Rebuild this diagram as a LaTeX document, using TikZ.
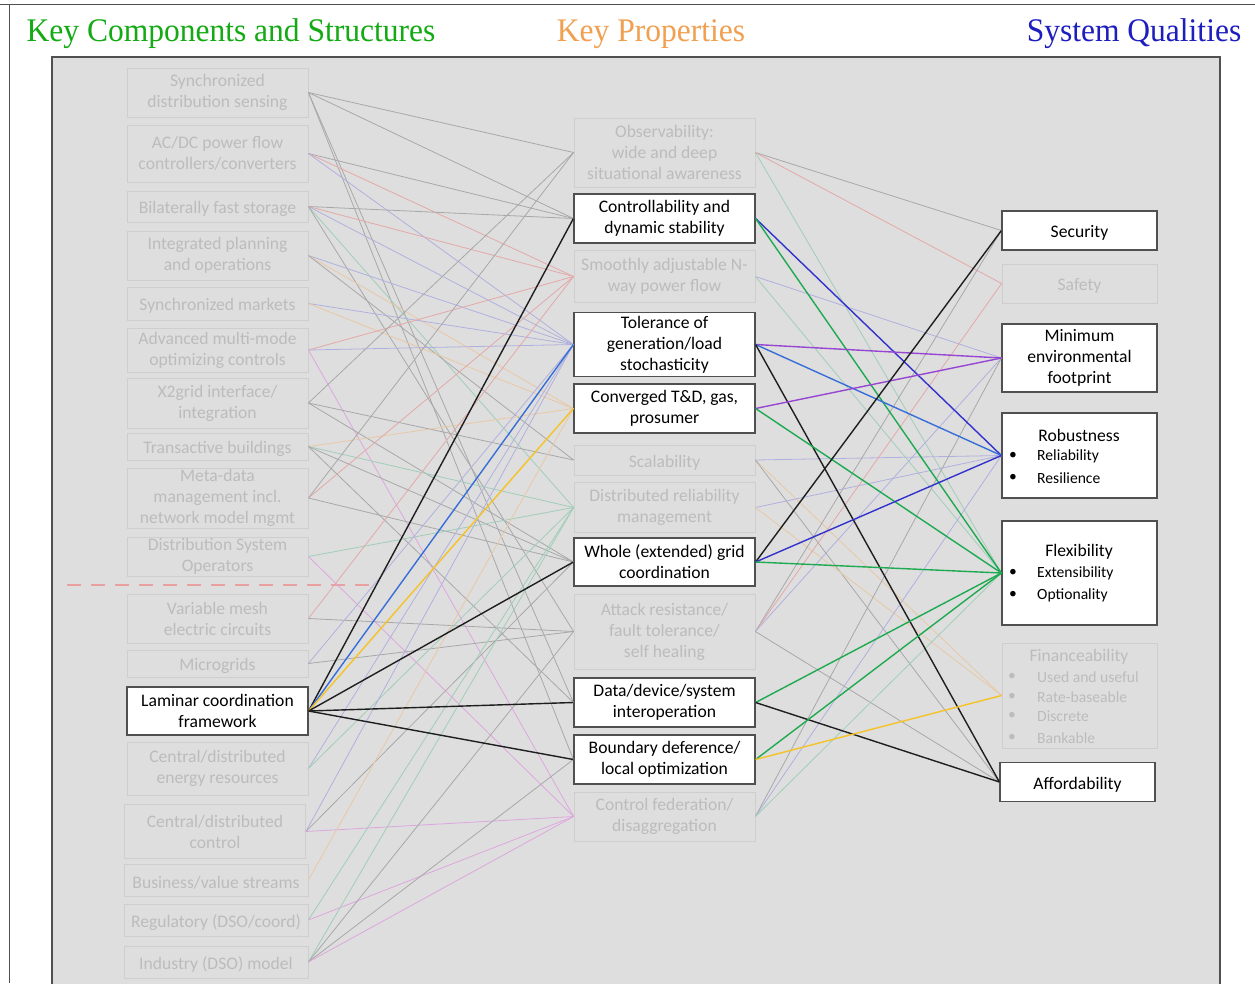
\documentclass[tikz,border=0pt]{standalone}
\usepackage{fontspec}
\setmainfont{Carlito}
\newfontfamily\titlefont{Liberation Serif}
\definecolor{panel}{RGB}{222,222,222}
\definecolor{fborder}{RGB}{206,206,206}
\definecolor{ftext}{RGB}{188,188,188}
\definecolor{dborder}{RGB}{80,80,80}
\definecolor{cgray}{RGB}{168,168,168}
\definecolor{cpink}{RGB}{228,168,168}
\definecolor{clav}{RGB}{176,176,224}
\definecolor{ctan}{RGB}{232,200,165}
\definecolor{cteal}{RGB}{160,206,184}
\definecolor{cmag}{RGB}{222,166,222}
\definecolor{cdash}{RGB}{232,160,160}
\definecolor{bblack}{RGB}{30,30,30}
\definecolor{bblue}{RGB}{55,110,215}
\definecolor{bdblue}{RGB}{50,50,205}
\definecolor{bgreen}{RGB}{30,170,80}
\definecolor{bpurple}{RGB}{150,70,210}
\definecolor{bgold}{RGB}{245,195,40}
\definecolor{tgreen}{RGB}{20,170,20}
\definecolor{torange}{RGB}{240,160,80}
\definecolor{tblue}{RGB}{30,30,190}
\newcommand\bfont{\fontsize{17.6}{21}\selectfont}
\newcommand\sfont{\fontsize{15.6}{18}\selectfont}
\newcommand\topstrut{\rule{0pt}{17pt}}
\begin{document}
\begin{tikzpicture}[x=1pt,y=-1pt,
  fbox/.style={draw=fborder,fill=panel,text=ftext,align=center,minimum width=181pt,inner sep=0pt,font=\bfont,line width=0.8pt,execute at begin node=\topstrut},
  wbox/.style={draw=dborder,fill=white,text=black,align=center,minimum width=181pt,inner sep=0pt,font=\bfont,line width=1.2pt,execute at begin node=\topstrut},
  rbox/.style={minimum width=155pt},
  ttl/.style={font=\titlefont\fontsize{33}{36}\selectfont,inner sep=0pt,xscale=0.955},
  fl/.style={line width=0.8pt},
  bl/.style={line width=1.4pt},
  lbl/.style={inner sep=0pt,anchor=west},
]
\useasboundingbox (0,0) rectangle (1255,983);
\fill[white] (0,0) rectangle (1255,983);
\draw[dborder,line width=1pt] (0,4) -- (1255,4);
\draw[dborder,line width=1pt] (9,4) -- (9,983);
% titles
\node[ttl,text=tgreen] (t1) at (231,34) {Key Components and Structures};
\node[ttl,text=torange] (t2) at (651,34) {Key Properties};
\node[ttl,text=tblue] (t3) at (1134,34) {System Qualities};
% panel
\draw[dborder,fill=panel,line width=1.2pt] (52,57) rectangle (1220,995);
\draw[cdash,line width=1.2pt,dash pattern=on 14pt off 10pt] (67,585) -- (375,585);
% left column
\node[fbox,minimum height=49pt] (L1) at (217.5,92.5) {Synchronized\\distribution sensing};
\node[fbox,minimum height=57pt] (L2) at (217.5,153.5) {AC/DC power flow\\controllers/converters};
\node[fbox,minimum height=31pt] (L3) at (217.5,206.5) {Bilaterally fast storage};
\node[fbox,minimum height=49pt] (L4) at (217.5,255.5) {Integrated planning\\and operations};
\node[fbox,minimum height=33pt] (L5) at (217.5,303.5) {Synchronized markets};
\node[fbox,minimum height=44pt] (L6) at (217.5,350) {Advanced multi-mode\\optimizing controls};
\node[fbox,minimum height=50pt] (L7) at (217.5,403) {X2grid interface/\\integration};
\node[fbox,minimum height=27pt] (L8) at (217.5,446.5) {Transactive buildings};
\node[fbox,minimum height=60pt] (L9) at (217.5,498) {Meta-data\\management incl.\\network model mgmt};
\node[fbox,minimum height=39pt] (L10) at (217.5,556.5) {Distribution System\\Operators};
\node[fbox,minimum height=49pt] (L11) at (217.5,618.5) {Variable mesh\\electric circuits};
\node[fbox,minimum height=27pt] (L12) at (217.5,663.5) {Microgrids};
\node[wbox,minimum height=48pt] (L13) at (217.5,711) {Laminar coordination\\framework};
\node[fbox,minimum height=53pt] (L14) at (217.5,768.5) {Central/distributed\\energy resources};
\node[fbox,minimum height=54pt] (L15) at (215,831.5) {Central/distributed\\control};
\node[fbox,minimum height=32pt,minimum width=184pt] (L16) at (216,880) {Business/value streams};
\node[fbox,minimum height=32pt,minimum width=184pt] (L17) at (216,920) {Regulatory (DSO/coord)};
\node[fbox,minimum height=32pt,minimum width=184pt] (L18) at (216,962) {Industry (DSO) model};
% middle column
\node[fbox,minimum height=69pt] (M1) at (664.5,152.5) {Observability:\\wide and deep\\situational awareness};
\node[wbox,minimum height=49pt] (M2) at (664.5,218.5) {Controllability and\\dynamic stability};
\node[fbox,minimum height=52pt] (M3) at (664.5,276.5) {Smoothly adjustable N-\\way power flow};
\node[wbox,minimum height=64pt] (M4) at (664.5,344.5) {Tolerance of\\generation/load\\stochasticity};
\node[wbox,minimum height=49pt] (M5) at (664.5,408.5) {Converged T\&D, gas,\\prosumer};
\node[fbox,minimum height=30pt] (M6) at (664.5,460) {Scalability};
\node[fbox,minimum height=50pt] (M7) at (664.5,507.5) {Distributed reliability\\management};
\node[wbox,minimum height=48pt] (M8) at (664.5,562) {Whole (extended) grid\\coordination};
\node[fbox,minimum height=75pt] (M9) at (664.5,631.5) {Attack resistance/\\fault tolerance/\\self healing};
\node[wbox,minimum height=49pt] (M10) at (664.5,702.5) {Data/device/system\\interoperation};
\node[wbox,minimum height=49pt] (M11) at (664.5,759.5) {Boundary deference/\\local optimization};
\node[fbox,minimum height=49pt] (M12) at (664.5,816.5) {Control federation/\\disaggregation};
% right column
\node[wbox,rbox,minimum height=39pt] (R1) at (1079.5,230.5) {Security};
\node[fbox,rbox,minimum height=39pt] (R2) at (1079.5,283.5) {Safety};
\node[wbox,rbox,minimum height=68pt] (R3) at (1079.5,358) {Minimum\\environmental\\footprint};
\node[wbox,rbox,minimum height=85pt,execute at begin node={}] (R4) at (1079.5,455.5) {};
\node[wbox,rbox,minimum height=104pt,execute at begin node={}] (R5) at (1079.5,573) {};
\node[fbox,rbox,minimum height=105pt,execute at begin node={}] (R6) at (1079.5,695.5) {};
\node[wbox,rbox,minimum height=39pt] (R7) at (1077.5,782) {Affordability};
% faded connectors left -> middle
\foreach \a/\b/\c in {L1/M1/cgray,L1/M2/cgray,L1/M10/cgray,L1/M11/cgray,
  L2/M2/cgray,L2/M3/cpink,L2/M4/clav,
  L3/M2/cgray,L3/M3/cpink,L3/M4/clav,L3/M7/cteal,L3/M9/cgray,
  L4/M4/clav,L4/M5/ctan,L4/M6/cgray,
  L5/M4/clav,L5/M5/ctan,
  L6/M3/cpink,L6/M4/clav,L6/M12/cmag,
  L7/M1/cgray,L7/M6/cgray,L7/M8/cgray,
  L8/M5/ctan,L8/M7/cteal,L8/M8/cgray,L8/M10/cgray,
  L9/M1/cgray,L9/M3/cpink,L9/M8/cgray,
  L10/M7/cteal,L10/M12/cmag,
  L11/M3/cpink,L11/M9/cgray,
  L12/M4/clav,L12/M9/cgray,
  L14/M4/clav,L14/M7/cteal,
  L15/M4/clav,L15/M8/cgray,L15/M12/cmag,
  L16/M5/ctan,
  L17/M7/cteal,L17/M12/cmag,
  L18/M7/cteal,L18/M9/cgray,L18/M11/cgray,L18/M12/cmag}
  {\draw[fl,\c] (\a.east) -- (\b.west);}
% faded connectors middle -> right
\foreach \a/\b/\c in {M1/R1/cgray,M1/R2/cpink,M1/R5/cteal,
  M3/R3/clav,M3/R5/cteal,
  M6/R4/clav,M6/R6/ctan,M6/R7/cgray,
  M7/R4/clav,M7/R6/ctan,
  M9/R1/cgray,M9/R2/cpink,M9/R3/clav,M9/R7/cgray,
  M12/R3/cgray,M12/R4/clav,M12/R5/cteal}
  {\draw[fl,\c] (\a.east) -- (\b.west);}
% bold connectors
\foreach \b/\c in {M2/bblack,M4/bblue,M5/bgold,M8/bblack,M10/bblack,M11/bblack}
  {\draw[bl,\c] (L13.east) -- (\b.west);}
\foreach \a/\b/\c in {M2/R4/bdblue,M2/R5/bgreen,
  M4/R3/bpurple,M4/R4/bblue,M4/R7/bblack,
  M5/R3/bpurple,M5/R5/bgreen,
  M8/R1/bblack,M8/R4/bdblue,M8/R5/bgreen,
  M10/R5/bgreen,M10/R7/bblack,
  M11/R5/bgreen,M11/R6/bgold}
  {\draw[bl,\c] (\a.east) -- (\b.west);}
% texts inside right boxes
\node[font=\bfont,inner sep=0pt] (r4t) at (1079,435) {Robustness};
\node[font=\sfont,inner sep=0pt] (r4b1) at (1013,456) {\textbullet};
\node[font=\sfont,lbl] (r4i1) at (1037,456) {Reliability};
\node[font=\sfont,inner sep=0pt] (r4b2) at (1013,478) {\textbullet};
\node[font=\sfont,lbl] (r4i2) at (1037,478) {Resilience};
\node[font=\bfont,inner sep=0pt] (r5t) at (1079,552) {Flexibility};
\node[font=\sfont,inner sep=0pt] (r5b1) at (1013,573) {\textbullet};
\node[font=\sfont,lbl] (r5i1) at (1037,573) {Extensibility};
\node[font=\sfont,inner sep=0pt] (r5b2) at (1013,595) {\textbullet};
\node[font=\sfont,lbl] (r5i2) at (1037,595) {Optionality};
\node[font=\bfont,inner sep=0pt,text=ftext] (r6t) at (1079,657) {Financeability};
\node[font=\sfont,inner sep=0pt,text=ftext] (r6b1) at (1012,677) {\textbullet};
\node[font=\sfont,lbl,text=ftext] (r6i1) at (1037,677) {Used and useful};
\node[font=\sfont,inner sep=0pt,text=ftext] (r6b2) at (1012,697) {\textbullet};
\node[font=\sfont,lbl,text=ftext] (r6i2) at (1037,697) {Rate-baseable};
\node[font=\sfont,inner sep=0pt,text=ftext] (r6b3) at (1012,716) {\textbullet};
\node[font=\sfont,lbl,text=ftext] (r6i3) at (1037,716) {Discrete};
\node[font=\sfont,inner sep=0pt,text=ftext] (r6b4) at (1012,738) {\textbullet};
\node[font=\sfont,lbl,text=ftext] (r6i4) at (1037,738) {Bankable};
\end{tikzpicture}
\end{document}
